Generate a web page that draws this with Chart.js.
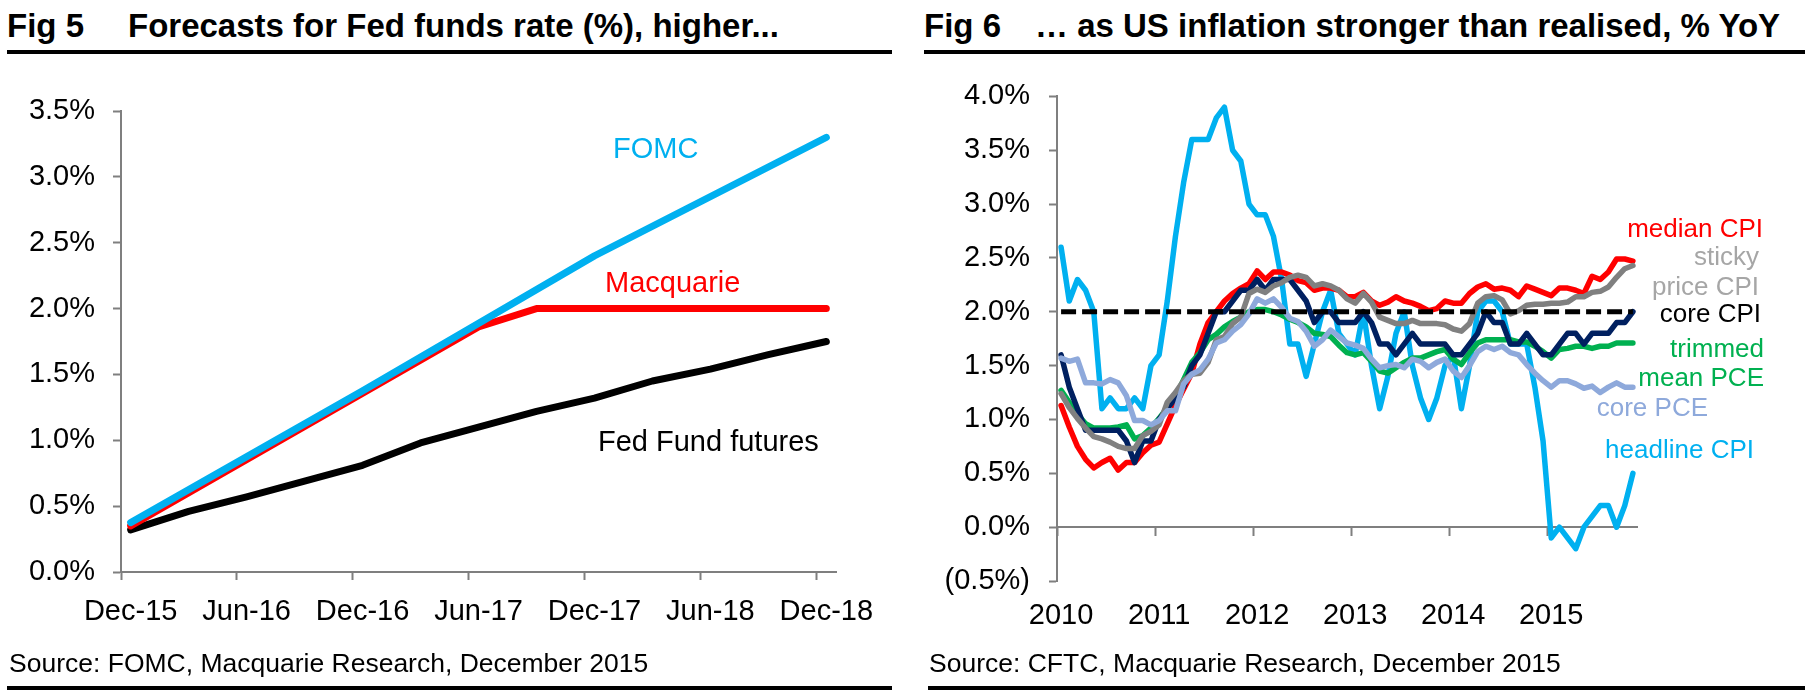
<!DOCTYPE html>
<html><head><meta charset="utf-8">
<script src="https://cdn.jsdelivr.net/npm/chart.js@4.4.0/dist/chart.umd.min.js"></script>
<style>
body{margin:0;background:#fff;}
#page{position:relative;width:1805px;height:694px;overflow:hidden;font-family:"Liberation Sans",Arial,sans-serif;background:#fff;}
.t{position:absolute;white-space:nowrap;line-height:1;}
.title{font-weight:bold;font-size:33px;color:#000;}
.rule{position:absolute;background:#000;}
.src{font-size:26.5px;color:#000;}
.annL{font-size:29px;}
.annR{font-size:26px;text-align:right;}
canvas{position:absolute;}
</style></head>
<body><div id="page">
<div class="t title" style="left:7px;top:9px">Fig 5</div>
<div class="t title" style="left:128px;top:9px">Forecasts for Fed funds rate (%), higher...</div>
<div class="t title" style="left:924px;top:9px">Fig 6</div>
<div class="t title" style="left:1035px;top:9px">… as US inflation stronger than realised, % YoY</div>
<div class="rule" style="left:7px;top:50px;width:885px;height:4px"></div>
<div class="rule" style="left:924px;top:50px;width:881px;height:4px"></div>

<canvas id="c1" width="900" height="600" style="left:0;top:60px"></canvas>
<canvas id="c2" width="905" height="600" style="left:900px;top:60px"></canvas>

<div class="t annL" style="left:613px;top:134px;color:#00B0F0">FOMC</div>
<div class="t annL" style="left:605px;top:268px;color:#FF0000">Macquarie</div>
<div class="t annL" style="left:598px;top:427px;color:#000">Fed Fund futures</div>

<div class="t annR" style="right:42px;top:215px;color:#FF0000">median CPI</div>
<div class="t annR" style="right:46px;top:243px;color:#A6A6A6">sticky</div>
<div class="t annR" style="right:46px;top:273px;color:#A6A6A6">price CPI</div>
<div class="t annR" style="right:44px;top:300px;color:#000">core CPI</div>
<div class="t annR" style="right:41px;top:335px;color:#00B050">trimmed</div>
<div class="t annR" style="right:41px;top:364px;color:#00B050">mean PCE</div>
<div class="t annR" style="right:97px;top:394px;color:#8EA9DB">core PCE</div>
<div class="t annR" style="right:51px;top:436px;color:#00B0F0">headline CPI</div>

<div class="t src" style="left:9px;top:650px">Source: FOMC, Macquarie Research, December 2015</div>
<div class="t src" style="left:929px;top:650px">Source: CFTC, Macquarie Research, December 2015</div>
<div class="rule" style="left:7px;top:686px;width:885px;height:4px"></div>
<div class="rule" style="left:928px;top:686px;width:877px;height:4px"></div>
</div>
<script>
// ---------- Fig 5 data ----------
const leftMonths = ["Dec-15","Jan-16","Feb-16","Mar-16","Apr-16","May-16","Jun-16","Jul-16","Aug-16","Sep-16","Oct-16","Nov-16",
  "Dec-16","Jan-17","Feb-17","Mar-17","Apr-17","May-17","Jun-17","Jul-17","Aug-17","Sep-17","Oct-17","Nov-17",
  "Dec-17","Jan-18","Feb-18","Mar-18","Apr-18","May-18","Jun-18","Jul-18","Aug-18","Sep-18","Oct-18","Nov-18","Dec-18"];
const leftTickLabels = ["Dec-15","Jun-16","Dec-16","Jun-17","Dec-17","Jun-18","Dec-18"];
const fomc = [0.375,null,null,null,null,null,null,null,null,null,null,null,
  1.375,null,null,null,null,null,null,null,null,null,null,null,
  2.4,null,null,null,null,null,null,null,null,null,null,null,3.3];
const macquarie = [0.35,null,null,null,null,null,null,null,null,null,null,null,
  null,null,null,null,null,null,1.86,null,null,2.0,null,null,
  null,null,null,null,null,null,null,null,null,null,null,null,2.0];
const futures = [0.32,null,null,0.46,null,null,0.57,null,null,0.69,null,null,
  0.81,null,null,0.98,null,null,1.10,null,null,1.22,null,null,
  1.32,null,null,1.45,null,null,1.54,null,null,1.65,null,null,1.75];

// ---------- Fig 6 data ----------
const rightMonths = [
 "Jan-10","Feb-10","Mar-10","Apr-10","May-10","Jun-10","Jul-10","Aug-10","Sep-10","Oct-10","Nov-10","Dec-10",
 "Jan-11","Feb-11","Mar-11","Apr-11","May-11","Jun-11","Jul-11","Aug-11","Sep-11","Oct-11","Nov-11","Dec-11",
 "Jan-12","Feb-12","Mar-12","Apr-12","May-12","Jun-12","Jul-12","Aug-12","Sep-12","Oct-12","Nov-12","Dec-12",
 "Jan-13","Feb-13","Mar-13","Apr-13","May-13","Jun-13","Jul-13","Aug-13","Sep-13","Oct-13","Nov-13","Dec-13",
 "Jan-14","Feb-14","Mar-14","Apr-14","May-14","Jun-14","Jul-14","Aug-14","Sep-14","Oct-14","Nov-14","Dec-14",
 "Jan-15","Feb-15","Mar-15","Apr-15","May-15","Jun-15","Jul-15","Aug-15","Sep-15","Oct-15","Nov-15"];
const rightTickLabels = ["2010","2011","2012","2013","2014","2015"];
const headlineCPI = [
 2.6,2.1,2.3,2.2,2.0,1.1,1.2,1.1,1.1,1.2,1.1,1.5,
 1.6,2.1,2.7,3.2,3.6,3.6,3.6,3.8,3.9,3.5,3.4,3.0,
 2.9,2.9,2.7,2.3,1.7,1.7,1.4,1.7,2.0,2.2,1.8,1.7,
 1.6,2.0,1.5,1.1,1.4,1.8,2.0,1.5,1.2,1.0,1.2,1.5,
 1.6,1.1,1.5,2.0,2.1,2.1,2.0,1.7,1.7,1.7,1.3,0.8,
 -0.1,0.0,-0.1,-0.2,0.0,0.1,0.2,0.2,0.0,0.2,0.5];
const coreCPI = [
 1.6,1.3,1.1,0.9,0.9,0.9,0.9,0.9,0.8,0.6,0.8,0.8,
 1.0,1.1,1.2,1.3,1.5,1.6,1.8,2.0,2.0,2.1,2.2,2.2,
 2.3,2.2,2.3,2.3,2.3,2.2,2.1,1.9,2.0,2.0,1.9,1.9,
 1.9,2.0,1.9,1.7,1.7,1.6,1.7,1.8,1.7,1.7,1.7,1.7,
 1.6,1.6,1.7,1.8,2.0,1.9,1.9,1.7,1.7,1.8,1.7,1.6,
 1.6,1.7,1.8,1.8,1.7,1.8,1.8,1.8,1.9,1.9,2.0];
const medianCPI = [
 1.13,0.93,0.75,0.63,0.55,0.60,0.64,0.53,0.60,0.60,0.69,0.76,
 0.79,0.96,1.13,1.28,1.43,1.70,1.90,2.00,2.10,2.17,2.22,2.26,
 2.38,2.30,2.37,2.37,2.34,2.29,2.27,2.20,2.22,2.22,2.20,2.14,
 2.14,2.18,2.10,2.06,2.09,2.14,2.10,2.08,2.05,2.01,2.03,2.10,
 2.08,2.08,2.17,2.23,2.26,2.21,2.22,2.20,2.14,2.24,2.21,2.18,
 2.15,2.22,2.22,2.20,2.17,2.33,2.30,2.37,2.49,2.49,2.47];
const stickyCPI = [
 1.24,1.11,1.01,0.92,0.84,0.82,0.79,0.75,0.73,0.73,0.85,0.89,
 0.95,1.16,1.25,1.36,1.42,1.43,1.53,1.74,1.77,1.89,1.95,2.17,
 2.21,2.18,2.24,2.27,2.32,2.34,2.32,2.24,2.26,2.24,2.20,2.12,
 2.08,2.17,2.09,1.95,1.92,1.89,1.89,1.92,1.89,1.89,1.89,1.88,
 1.84,1.82,1.89,2.08,2.14,2.15,2.11,1.98,2.01,2.06,2.07,2.07,
 2.08,2.08,2.09,2.14,2.14,2.18,2.19,2.23,2.32,2.40,2.43];
const trimmedPCE = [
 1.27,1.16,1.05,0.96,0.92,0.92,0.92,0.93,0.95,0.82,0.85,0.92,
 1.01,1.11,1.21,1.37,1.53,1.62,1.74,1.79,1.86,1.91,1.95,2.00,
 2.02,2.02,2.00,1.97,1.93,1.90,1.86,1.80,1.79,1.77,1.69,1.62,
 1.60,1.62,1.54,1.45,1.43,1.48,1.53,1.57,1.57,1.60,1.63,1.65,
 1.56,1.51,1.62,1.71,1.74,1.74,1.74,1.74,1.72,1.72,1.68,1.63,
 1.57,1.65,1.66,1.68,1.68,1.66,1.68,1.68,1.71,1.71,1.71];
const corePCE = [
 1.57,1.54,1.56,1.34,1.34,1.33,1.37,1.34,1.22,0.99,0.99,0.95,
 0.99,1.08,1.08,1.33,1.42,1.46,1.56,1.71,1.74,1.82,1.88,1.98,
 2.12,2.08,2.12,2.04,1.94,1.91,1.82,1.68,1.74,1.83,1.77,1.71,
 1.69,1.66,1.56,1.48,1.50,1.51,1.48,1.56,1.54,1.48,1.53,1.56,
 1.45,1.39,1.50,1.63,1.68,1.65,1.68,1.62,1.60,1.51,1.43,1.36,
 1.30,1.36,1.36,1.33,1.29,1.31,1.25,1.30,1.34,1.30,1.30];
const targetRate = 2.0;

Chart.defaults.font.family = '"Liberation Sans", Arial, sans-serif';
Chart.defaults.color = '#000';
const AXIS = '#7F7F7F';
const lineDs = (label, data, color, width) => ({label, data, borderColor: color, backgroundColor: color,
  borderWidth: width, pointRadius: 0, tension: 0, spanGaps: true, fill: false,
  borderJoinStyle: 'round', borderCapStyle: 'round'});

new Chart(document.getElementById('c1'), {
  type: 'line',
  data: { labels: leftMonths, datasets: [
    lineDs('FOMC', fomc, '#00B0F0', 7),
    lineDs('Macquarie', macquarie, '#FF0000', 7),
    lineDs('Fed Fund futures', futures, '#000000', 7)
  ]},
  options: {
    responsive: false, animation: false, devicePixelRatio: 1,
    layout: { padding: { top: 51, right: 64, bottom: 0, left: 0 } },
    plugins: { legend: { display: false }, tooltip: { enabled: false } },
    scales: {
      x: { type: 'category', offset: true,
        grid: { display: true, offset: true, drawOnChartArea: false, tickLength: 8, tickWidth: 2,
          tickColor: c => (c.index !== undefined && c.index % 6 === 0) ? AXIS : 'rgba(0,0,0,0)' },
        border: { color: AXIS, width: 2 },
        ticks: { autoSkip: false, maxRotation: 0, padding: 15, font: { size: 29 },
          callback: (v, i) => i % 6 === 0 ? leftTickLabels[i / 6] : '' },
        afterFit: s => { s.height = 88; } },
      y: { min: 0, max: 3.5,
        ticks: { stepSize: 0.5, padding: 18, font: { size: 29 }, callback: v => v.toFixed(1) + '%' },
        grid: { drawOnChartArea: false, tickLength: 8, tickWidth: 2, color: AXIS },
        border: { color: AXIS, width: 2 },
        afterFit: s => { s.width = 121; } }
    }
  }
});

const targetData = rightMonths.map((m, i) => (i === 0 || i === rightMonths.length - 1) ? targetRate : null);
const dashDs = lineDs('2% target', targetData, '#000000', 5);
dashDs.borderDash = [15, 6];
dashDs.borderCapStyle = 'butt';

new Chart(document.getElementById('c2'), {
  type: 'line',
  data: { labels: rightMonths, datasets: [
    dashDs,
    lineDs('core PCE', corePCE, '#8EA9DB', 5.5),
    lineDs('sticky price CPI', stickyCPI, '#808080', 5.5),
    lineDs('core CPI', coreCPI, '#002060', 5.5),
    lineDs('trimmed mean PCE', trimmedPCE, '#00B050', 5.5),
    lineDs('median CPI', medianCPI, '#FF0000', 5.5),
    lineDs('headline CPI', headlineCPI, '#00B0F0', 5.5)
  ]},
  options: {
    responsive: false, animation: false, devicePixelRatio: 1,
    layout: { padding: { top: 30, right: 168, bottom: 0, left: 0 } },
    plugins: { legend: { display: false }, tooltip: { enabled: false } },
    scales: {
      x: { type: 'category', offset: true,
        grid: { display: false, drawTicks: false },
        border: { display: false },
        ticks: { autoSkip: false, maxRotation: 0, padding: 18, font: { size: 29 },
          callback: (v, i) => i % 12 === 0 ? rightTickLabels[i / 12] : '' },
        afterFit: s => { s.height = 79; } },
      x0: { type: 'category', axis: 'x', position: { y: 0 }, offset: true,
        grid: { display: true, offset: true, drawOnChartArea: false, tickLength: 8, tickWidth: 2,
          tickColor: c => (c.index !== undefined && c.index % 12 === 0) ? AXIS : 'rgba(0,0,0,0)' },
        border: { color: AXIS, width: 2 },
        ticks: { display: false, autoSkip: false } },
      y: { min: -0.5, max: 4.0,
        ticks: { stepSize: 0.5, padding: 19, font: { size: 29 },
          callback: v => v < 0 ? '(' + Math.abs(v).toFixed(1) + '%)' : v.toFixed(1) + '%' },
        grid: { drawOnChartArea: false, tickLength: 8, tickWidth: 2, color: AXIS },
        border: { color: AXIS, width: 2 },
        afterFit: s => { s.width = 157; } }
    }
  }
});
</script>
</body></html>
